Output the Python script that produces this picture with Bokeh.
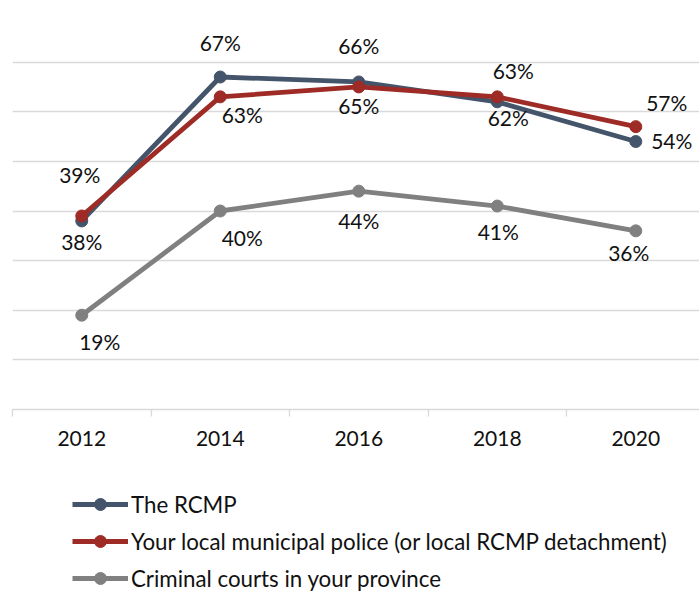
from bokeh.plotting import figure
from bokeh.models import Range1d, FixedTicker, Legend, LegendItem
from bokeh.layouts import column
from bokeh.embed import file_html
from bokeh.resources import INLINE
from bokeh.core.properties import value

years = ["2012", "2014", "2016", "2018", "2020"]
rcmp = [38, 67, 66, 62, 54]
municipal = [39, 63, 65, 63, 57]
courts = [19, 40, 44, 41, 36]
series_names = [
    "The RCMP",
    "Your local municipal police (or local RCMP detachment)",
    "Criminal courts in your province",
]
colors = ["#44546A", "#9E2B25", "#808080"]

# data-label offsets in screen pixels (style only)
rcmp_dx = [0, 0, 0, 11, 36]
rcmp_dy = [21, -35, -36, 16, -1]
muni_dx = [-2, 22, 0, 16, 31]
muni_dy = [-41, 18, 19, -26, -24]
court_dx = [18, 22, 0, 1, -7]
court_dy = [26, 26, 29, 25, 22]

FONT = "Lato"
FS = "21px"
LFS = "22.3px"
TXT = "#111111"

xs = list(range(len(years)))

p = figure(
    frame_width=687, frame_height=397,
    x_range=Range1d(-0.5, 4.46), y_range=Range1d(0, 80),
    output_backend="svg", toolbar_location=None,
    min_border_top=12, min_border_left=12, min_border_right=0, min_border_bottom=45,
    background_fill_color="white", border_fill_color="white",
)
p.outline_line_color = None
p.yaxis.visible = False
p.xgrid.visible = False
p.ygrid.ticker = FixedTicker(ticks=[0, 10, 20, 30, 40, 50, 60, 70, 80])
p.ygrid.grid_line_color = "#D9D9D9"
p.ygrid.grid_line_width = 1.3

ax = p.xaxis[0]
ax.ticker = FixedTicker(ticks=xs, minor_ticks=[i - 0.5 for i in xs])
ax.major_label_overrides = {i: y for i, y in zip(xs, years)}
ax.axis_line_color = "#D9D9D9"
ax.axis_line_width = 1.3
ax.major_tick_line_color = None
ax.major_tick_out = 0
ax.major_tick_in = 0
ax.minor_tick_line_color = "#D9D9D9"
ax.minor_tick_line_width = 1.3
ax.minor_tick_out = 7
ax.minor_tick_in = 0
ax.major_label_standoff = 14
ax.major_label_text_font = FONT
ax.major_label_text_font_size = FS
ax.major_label_text_color = TXT

for vals, col in [(courts, colors[2]), (rcmp, colors[0]), (municipal, colors[1])]:
    p.line(xs, vals, line_color=col, line_width=4.8)
    p.scatter(xs, vals, size=12, fill_color=col, line_color=col)

for vals, dx, dy in [(rcmp, rcmp_dx, rcmp_dy), (municipal, muni_dx, muni_dy), (courts, court_dx, court_dy)]:
    p.text(xs, vals, text=[f"{v}%" for v in vals], x_offset=dx, y_offset=dy,
           text_align="center", text_baseline="middle",
           text_font=value(FONT), text_font_size=FS, text_color=TXT)

# legend panel below the chart (series drawn out of view; only legend shows)
p2 = figure(
    width=699, height=139, x_range=Range1d(100, 101), y_range=Range1d(1000, 1001),
    output_backend="svg", toolbar_location=None,
    min_border=0, min_border_top=0, min_border_left=0, min_border_right=0, min_border_bottom=0,
    background_fill_color="white", border_fill_color="white",
)
p2.outline_line_color = None
p2.axis.visible = False
p2.grid.visible = False

items = []
for name, vals, col in zip(series_names, [rcmp, municipal, courts], colors):
    l = p2.line(xs, vals, line_color=col, line_width=5)
    s = p2.scatter(xs, vals, size=12, fill_color=col, line_color=col)
    items.append(LegendItem(label=name, renderers=[l, s]))

legend = Legend(
    items=items,
    location=(60, 0), orientation="vertical",
    glyph_width=56, glyph_height=30, label_height=20, label_standoff=3,
    spacing=7, padding=0, margin=0,
    border_line_color=None, background_fill_alpha=0,
    label_text_font=FONT, label_text_font_size=LFS, label_text_color=TXT,
)
p2.add_layout(legend, "center")

layout = column(p, p2, spacing=0)
open("out.html", "w").write(file_html(layout, INLINE))
